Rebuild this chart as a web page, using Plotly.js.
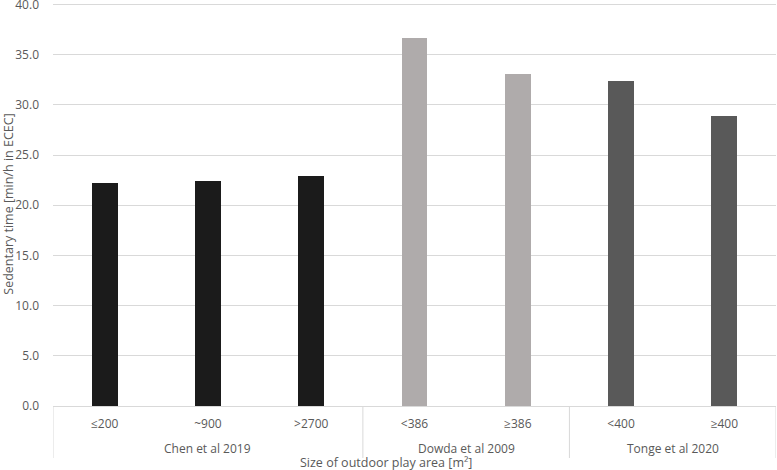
<!DOCTYPE html>
<html>
<head>
<meta charset="utf-8">
<script src="https://cdn.plot.ly/plotly-3.0.1.min.js"></script>
<style>html,body{margin:0;padding:0;background:#fff;}#chart{width:777px;height:470px;}</style>
</head>
<body>
<div id="chart"></div>
<script>
const studies = ["Chen et al 2019","Chen et al 2019","Chen et al 2019","Dowda et al 2009","Dowda et al 2009","Tonge et al 2020","Tonge et al 2020"];
const sizes = ["≤200","~900",">2700","<386","≥386","<400","≥400"];
const sedentary = [22.2, 22.4, 22.9, 36.7, 33.1, 32.4, 28.9];
const barColors = ["#1b1b1b","#1b1b1b","#1b1b1b","#afabab","#afabab","#595959","#595959"];
const yTickVals = [0, 5, 10, 15, 20, 25, 30, 35, 40];
const xTitle = "Size of outdoor play area [m²]";
const yTitle = "Sedentary time [min/h in ECEC]";

const font = "Open Sans, Noto Sans, sans-serif";
const textColor = "#595959";
const lineColor = "#d9d9d9";

// group spans derived from the studies array
const groups = [];
studies.forEach((s, i) => {
  if (!groups.length || groups[groups.length - 1].name !== s) groups.push({name: s, start: i, end: i});
  else groups[groups.length - 1].end = i;
});

const W = 777, H = 470;
const mL = 53, mR = 1, mT = 2, mB = 64;
const plotH = H - mT - mB, plotW = W - mL - mR;
const axisY = H - mB;
const toPaperY = py => -(py - axisY) / plotH;
const toPaperX = px => (px - mL) / plotW;

const annotations = groups.map(g => ({
  x: (g.start + g.end) / 2, xref: "x", y: toPaperY(448), yref: "paper",
  text: g.name, showarrow: false, xanchor: "center", yanchor: "middle",
  font: {family: font, size: 12, color: textColor}
}));
annotations.push({
  x: toPaperX(386), xref: "paper", y: toPaperY(463), yref: "paper",
  text: xTitle, showarrow: false, xanchor: "center", yanchor: "middle",
  font: {family: font, size: 12.5, color: textColor}
});
const bounds = [groups[0].start - 0.5].concat(groups.map(g => g.end + 0.5));
const shapes = bounds.map(b => ({
  type: "line", xref: "x", yref: "paper", x0: b, x1: b, y0: 0, y1: toPaperY(458),
  line: {color: lineColor, width: 1}
}));

Plotly.newPlot("chart", [{
  type: "bar",
  x: sizes,
  y: sedentary,
  width: 0.25,
  marker: {color: barColors, line: {width: 0}},
  hoverinfo: "none"
}], {
  width: W, height: H,
  margin: {l: mL, r: mR, t: mT, b: mB},
  paper_bgcolor: "#fff", plot_bgcolor: "#fff",
  font: {family: font, size: 12, color: textColor},
  showlegend: false,
  bargap: 0,
  annotations: annotations,
  shapes: shapes,
  xaxis: {
    type: "category",
    range: [-0.5, sizes.length - 0.5],
    showline: true, linecolor: lineColor, linewidth: 1,
    showgrid: false, ticks: "", ticklabelstandoff: 7,
    tickfont: {size: 12, color: textColor},
    automargin: false,
    fixedrange: true
  },
  yaxis: {
    range: [0, 40.25], tickvals: yTickVals, tickformat: ".1f",
    showgrid: true, gridcolor: lineColor, gridwidth: 1,
    zeroline: false, showline: false, ticks: "", ticklabelstandoff: 13,
    ticklabeloverflow: "allow",
    tickfont: {size: 12, color: textColor},
    title: {text: yTitle, font: {size: 12.5, color: textColor}, standoff: 6},
    automargin: false,
    fixedrange: true
  }
}, {displayModeBar: false, staticPlot: true});
</script>
</body>
</html>
